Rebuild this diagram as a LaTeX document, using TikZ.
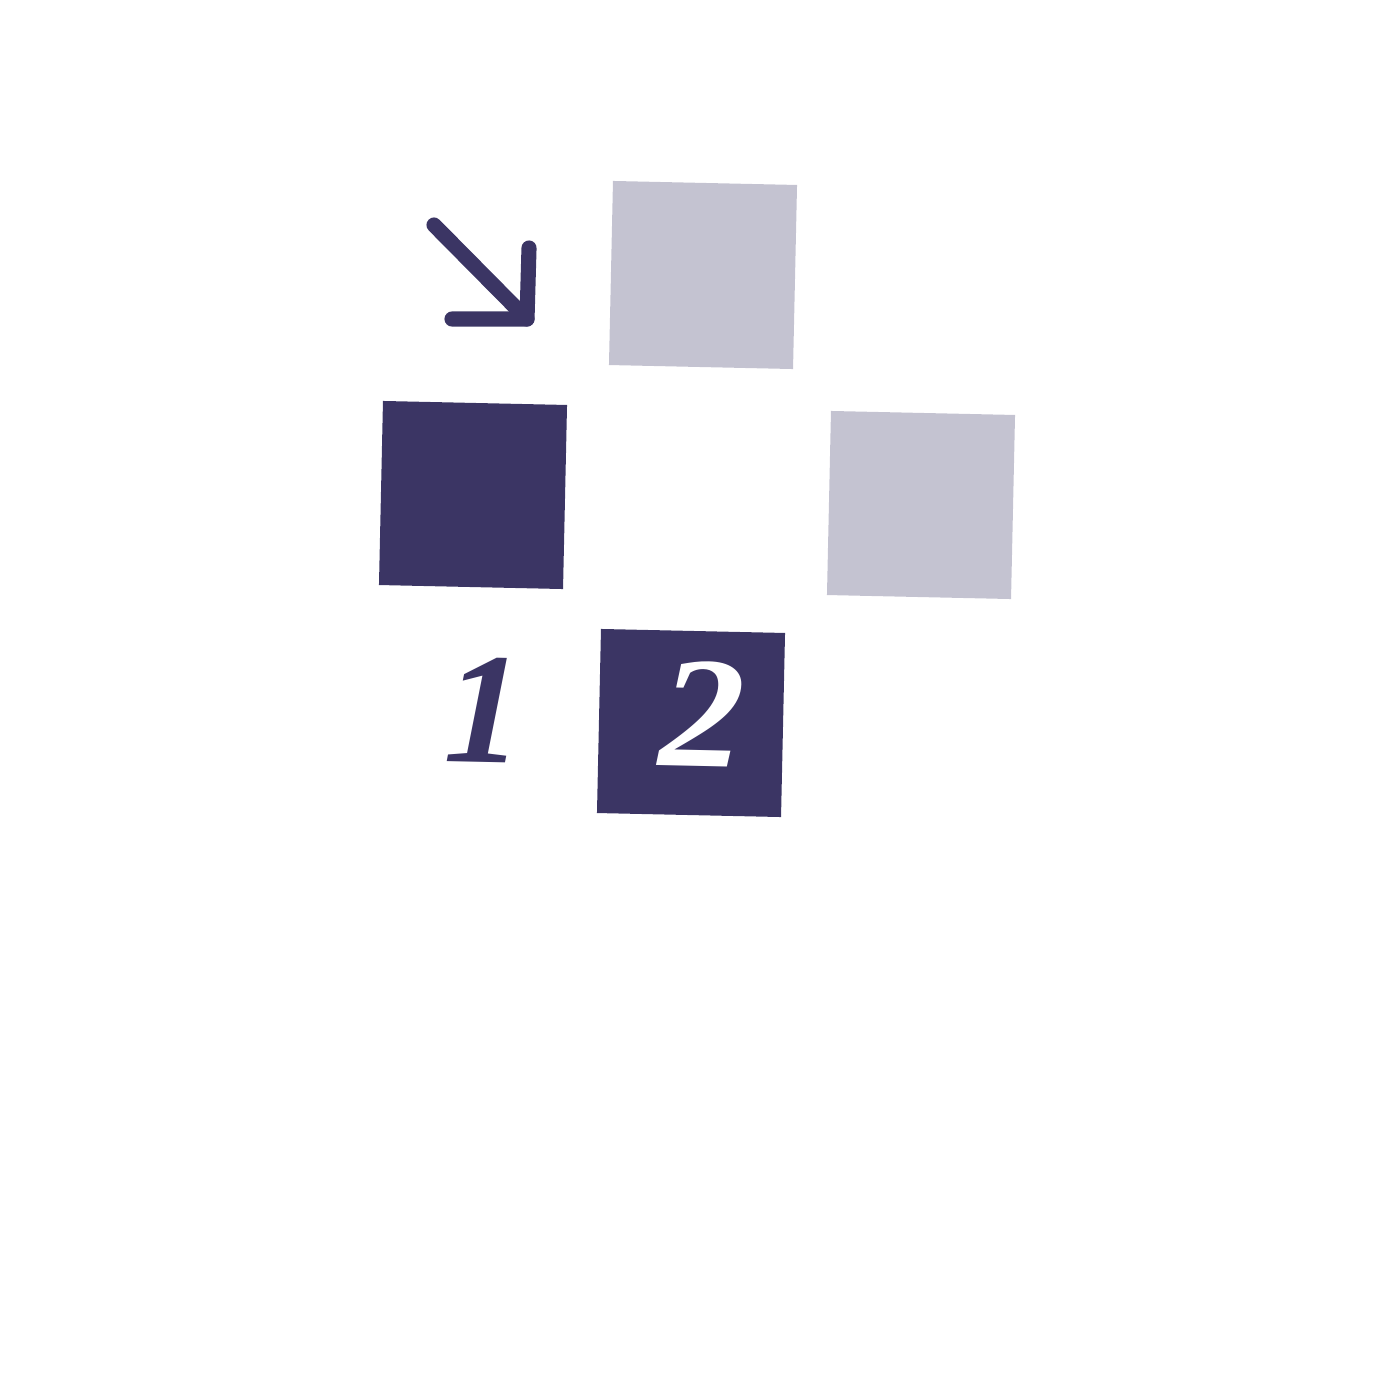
\documentclass[tikz,border=0pt]{standalone}
\usepackage{fontspec}
\newfontfamily\digitfont{Liberation Serif}
\definecolor{darkv}{HTML}{3B3564}
\definecolor{lightv}{HTML}{C4C3D1}
\begin{document}
\begin{tikzpicture}[x=0.01cm,y=-0.01cm,
  tile/.style={rectangle,inner sep=0pt,minimum size=1.84cm,rotate=-1.25},
  darktile/.style={tile,fill=darkv},
  lighttile/.style={tile,fill=lightv},
  digit/.style={inner sep=0pt,rotate=-1.25,font=\digitfont\fontsize{45}{45}\selectfont\bfseries\itshape},
  arrowline/.style={draw=darkv,line width=4.3pt,line cap=round,line join=round}]
\useasboundingbox (0,0) rectangle (1400,1400);
\node[lighttile] (sqA) at (703,275) {};
\node[darktile] (sqB) at (473,495) {};
\node[lighttile] (sqC) at (921,505) {};
\node[darktile] (sqD) at (691,723) {};
\node[digit,text=white,xscale=1.08] (two) at (702,714) {2};
\node[digit,text=darkv] (one) at (484,710) {1};
\coordinate (tail) at (434,225);
\coordinate (tip) at (527,319);
\coordinate (hl) at (452,319);
\coordinate (hr) at (529,248);
\draw[arrowline] (tail) -- (tip);
\draw[arrowline] (hl) -- (tip) -- (hr);
\end{tikzpicture}
\end{document}
